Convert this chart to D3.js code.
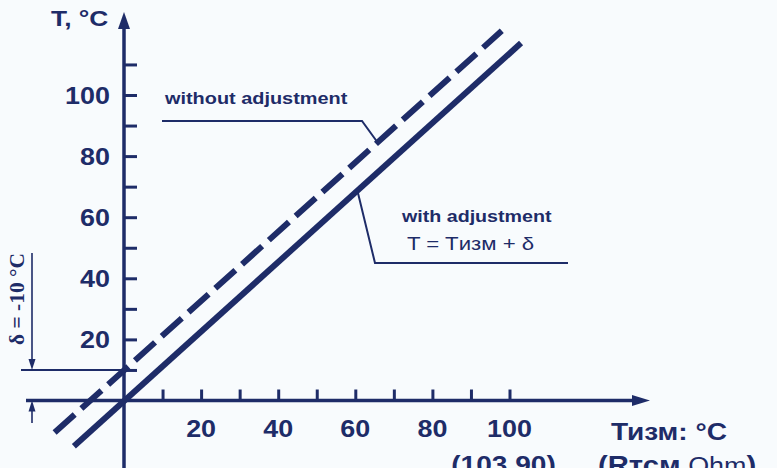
<!DOCTYPE html>
<html>
<head>
<meta charset="utf-8">
<script src="https://cdn.jsdelivr.net/npm/d3@7"></script>
<style>
  html, body { margin: 0; padding: 0; background: #fff; }
</style>
</head>
<body>
<div id="chart"></div>
<script>
// tick labels / marks
const xTickLabels = [20, 40, 60, 80, 100];
const yTickLabels = [20, 40, 60, 80, 100];
const xTickMarks = [10, 20, 30, 40, 50, 60, 70, 80, 90, 100];
const yTickMarks = [10, 20, 30, 40, 50, 60, 70, 80, 90, 100, 110];

// the two characteristic lines (Tизм, T) end points
const withoutAdjustment = [{t: -18, T: -10.5}, {t: 98, T: 121}];
const withAdjustment = [{t: -13, T: -15}, {t: 103, T: 117}];
const delta = 10;

const W = 777, H = 475;
const INK = "#1e2c68";
const SANS = "'Liberation Sans', Arial, sans-serif";
const SX = 1.17; // the picture is a bit wider than tall, stretch text to match

const x = d3.scaleLinear().domain([0, 100]).range([124, 509.5]);
const y = d3.scaleLinear().domain([0, 100]).range([400.5, 95]);

const svg = d3.select("#chart").append("svg")
    .attr("width", W)
    .attr("height", H)
    .style("display", "block");

svg.append("clipPath").attr("id", "pic")
    .append("rect").attr("x", 0).attr("y", 0).attr("width", W).attr("height", 468);

const root = svg.append("g").attr("clip-path", "url(#pic)");
root.append("rect").attr("width", W).attr("height", 468).attr("fill", "#f8fbfd");

function label(str, px, py, size, anchor, weight) {
    return root.append("text")
        .attr("transform", `translate(${px},${py}) scale(${SX},1)`)
        .attr("text-anchor", anchor || "start")
        .attr("font-family", SANS)
        .attr("font-size", size)
        .attr("font-weight", weight || "bold")
        .attr("fill", INK)
        .text(str);
}

// axes lines
root.append("line")
    .attr("x1", x(0)).attr("x2", x(0))
    .attr("y1", 475).attr("y2", 24)
    .attr("stroke", INK).attr("stroke-width", 3.5);
root.append("path")
    .attr("d", `M${x(0)},12 L${x(0) - 6},29 L${x(0) + 6},29 Z`)
    .attr("fill", INK);

root.append("line")
    .attr("x1", 26).attr("x2", 638)
    .attr("y1", y(0)).attr("y2", y(0))
    .attr("stroke", INK).attr("stroke-width", 3.5);
root.append("path")
    .attr("d", `M650,${y(0)} L632,${y(0) - 5.5} L632,${y(0) + 5.5} Z`)
    .attr("fill", INK);

// tick marks via d3 axes
const yAxis = root.append("g")
    .attr("transform", `translate(${x(0)},0)`)
    .call(d3.axisRight(y).tickValues(yTickMarks).tickSize(13).tickFormat(""));
const xAxis = root.append("g")
    .attr("transform", `translate(0,${y(0)})`)
    .call(d3.axisTop(x).tickValues(xTickMarks).tickSize(11).tickFormat(""));
[yAxis, xAxis].forEach(g => {
    g.select(".domain").remove();
    g.selectAll(".tick line").attr("stroke", INK).attr("stroke-width", 3);
});

// tick labels
yTickLabels.forEach(v => label(String(v), 110, y(v) + 8.5, 23, "end"));
xTickLabels.forEach(v => label(String(v), x(v), 437, 23, "middle"));

label("T, °C", 51, 26, 22.5, "start");
label("Тизм: °C", 669, 440, 24, "middle");
label("(103,90)", x(100) - 6, 473, 24, "middle");
const rt = label("", 598, 474, 25, "start");
rt.append("tspan").text("(Rтсм");
rt.append("tspan").attr("font-weight", "normal").attr("font-size", 23).text(" Ohm");
rt.append("tspan").text(")");

// characteristic lines
const line = d3.line().x(d => x(d.t)).y(d => y(d.T));
root.append("path")
    .datum(withoutAdjustment)
    .attr("d", line)
    .attr("fill", "none")
    .attr("stroke", INK)
    .attr("stroke-width", 6)
    .attr("stroke-dasharray", "27,9");
root.append("path")
    .datum(withAdjustment)
    .attr("d", line)
    .attr("fill", "none")
    .attr("stroke", INK)
    .attr("stroke-width", 6);

// callouts
root.append("path")
    .attr("d", "M162,121 L362,121 L378,143")
    .attr("fill", "none").attr("stroke", INK).attr("stroke-width", 2);
label("without adjustment", 165, 104, 17, "start");

root.append("path")
    .attr("d", "M357,189 L375,263 L568,263")
    .attr("fill", "none").attr("stroke", INK).attr("stroke-width", 2);
label("with adjustment", 402, 222, 16.8, "start");
label("T = Tизм + δ", 407, 250, 19, "start", "normal");

// delta annotation
root.append("line")
    .attr("x1", 21).attr("x2", 137)
    .attr("y1", y(delta)).attr("y2", y(delta))
    .attr("stroke", INK).attr("stroke-width", 2);
root.append("line")
    .attr("x1", 32).attr("x2", 32)
    .attr("y1", 253).attr("y2", y(delta) - 8)
    .attr("stroke", INK).attr("stroke-width", 1.6);
root.append("path")
    .attr("d", `M32,${y(delta)} L28.5,${y(delta) - 11} L35.5,${y(delta) - 11} Z`)
    .attr("fill", INK);
root.append("line")
    .attr("x1", 32).attr("x2", 32)
    .attr("y1", 423).attr("y2", y(0) + 8)
    .attr("stroke", INK).attr("stroke-width", 1.6);
root.append("path")
    .attr("d", `M32,${y(0)} L28.5,${y(0) + 11} L35.5,${y(0) + 11} Z`)
    .attr("fill", INK);

root.append("text")
    .attr("transform", "translate(24,299) rotate(-90)")
    .attr("text-anchor", "middle")
    .attr("font-family", "'Liberation Serif', 'Times New Roman', serif")
    .attr("font-weight", "bold")
    .attr("font-size", 20)
    .attr("textLength", 92)
    .attr("lengthAdjust", "spacingAndGlyphs")
    .attr("fill", INK)
    .text("δ = -10 °C");
</script>
</body>
</html>
